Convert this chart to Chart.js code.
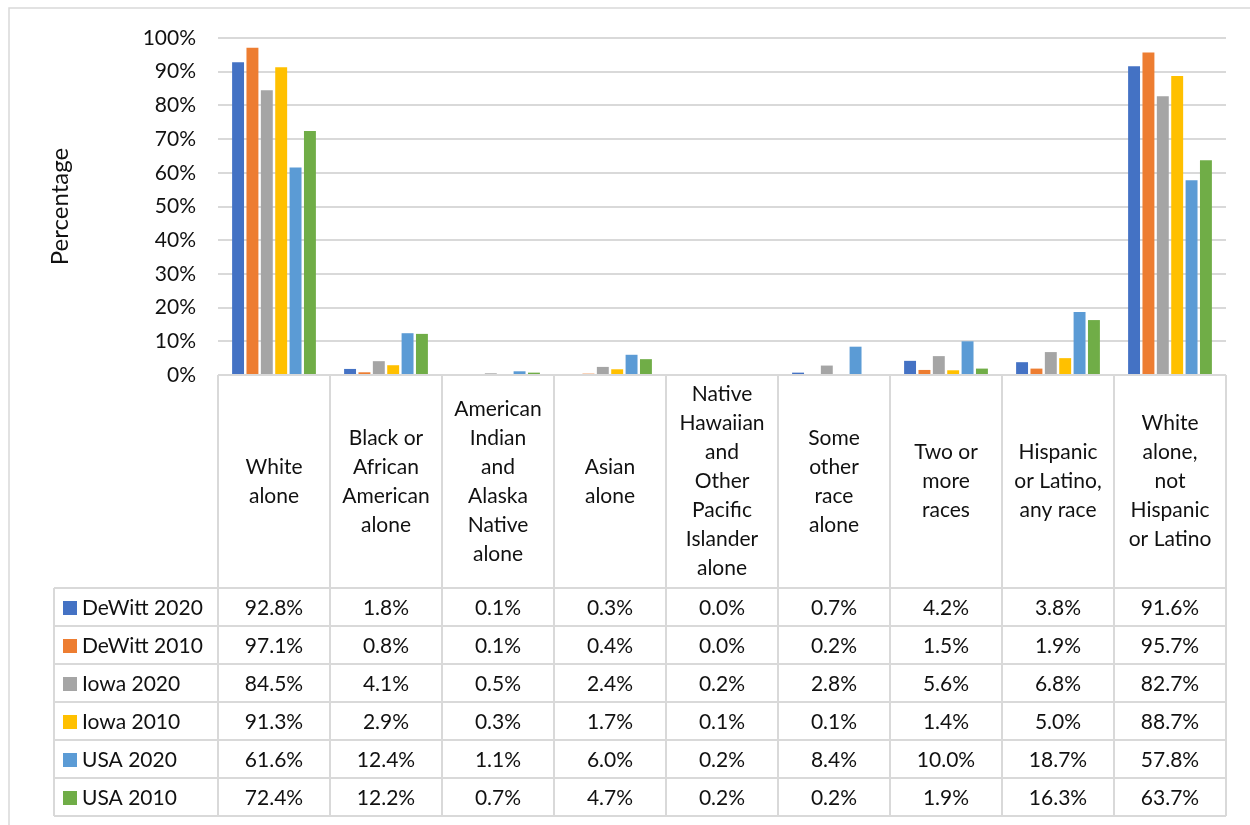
<!DOCTYPE html>
<html>
<head>
<meta charset="utf-8">
<script src="https://cdn.jsdelivr.net/npm/chart.js@4"></script>
<style>
  html, body { margin: 0; padding: 0; background: #fff; }
  #wrap { width: 1250px; height: 825px; position: relative; }
</style>
</head>
<body>
<div id="wrap"><canvas id="raceChart"></canvas></div>
<script>
// categories (multi-line labels, as in the table header)
const categories = [
  ["White", "alone"],
  ["Black or", "African", "American", "alone"],
  ["American", "Indian", "and", "Alaska", "Native", "alone"],
  ["Asian", "alone"],
  ["Native", "Hawaiian", "and", "Other", "Pacific", "Islander", "alone"],
  ["Some", "other", "race", "alone"],
  ["Two or", "more", "races"],
  ["Hispanic", "or Latino,", "any race"],
  ["White", "alone,", "not", "Hispanic", "or Latino"]
];

const seriesNames = ["DeWitt 2020", "DeWitt 2010", "Iowa 2020", "Iowa 2010", "USA 2020", "USA 2010"];

const dewitt2020 = [92.8, 1.8, 0.1, 0.3, 0.0, 0.7, 4.2, 3.8, 91.6];
const dewitt2010 = [97.1, 0.8, 0.1, 0.4, 0.0, 0.2, 1.5, 1.9, 95.7];
const iowa2020   = [84.5, 4.1, 0.5, 2.4, 0.2, 2.8, 5.6, 6.8, 82.7];
const iowa2010   = [91.3, 2.9, 0.3, 1.7, 0.1, 0.1, 1.4, 5.0, 88.7];
const usa2020    = [61.6, 12.4, 1.1, 6.0, 0.2, 8.4, 10.0, 18.7, 57.8];
const usa2010    = [72.4, 12.2, 0.7, 4.7, 0.2, 0.2, 1.9, 16.3, 63.7];

const yTicks = [0, 10, 20, 30, 40, 50, 60, 70, 80, 90, 100];

const seriesData = [dewitt2020, dewitt2010, iowa2020, iowa2010, usa2020, usa2010];
const colors = ["#4472C4", "#ED7D31", "#A5A5A5", "#FFC000", "#5B9BD5", "#70AD47"];

const FONT = "Lato, 'Open Sans', sans-serif";
const LINE = "#d9d9d9";
const TEXT = "#111111";

// frame around the whole chart
const framePlugin = {
  id: "frame",
  beforeDraw(chart) {
    const ctx = chart.ctx;
    ctx.save();
    ctx.strokeStyle = LINE;
    ctx.lineWidth = 1.5;
    ctx.strokeRect(9, 8, 1300, 900);
    ctx.restore();
  }
};

// Excel style data table under the plot
const dataTablePlugin = {
  id: "dataTable",
  afterDraw(chart) {
    const ctx = chart.ctx;
    const area = chart.chartArea;
    const xs = chart.scales.x;
    const labels = chart.data.labels;
    const colW = (area.right - area.left) / labels.length;
    const headerH = 213;
    const rowH = 38;
    const legendLeft = 54;
    const headerBottom = area.bottom + headerH;
    const tableBottom = headerBottom + rowH * chart.data.datasets.length;

    ctx.save();
    ctx.strokeStyle = LINE;
    ctx.lineWidth = 2;

    // vertical lines
    for (let i = 0; i <= labels.length; i++) {
      const x = area.left + i * colW;
      ctx.beginPath();
      ctx.moveTo(x, area.bottom);
      ctx.lineTo(x, tableBottom);
      ctx.stroke();
    }
    ctx.beginPath();
    ctx.moveTo(legendLeft, headerBottom);
    ctx.lineTo(legendLeft, tableBottom);
    ctx.stroke();

    // horizontal lines
    ctx.beginPath();
    ctx.moveTo(area.left, area.bottom);
    ctx.lineTo(area.right, area.bottom);
    ctx.stroke();
    for (let r = 0; r <= chart.data.datasets.length; r++) {
      const y = headerBottom + r * rowH;
      ctx.beginPath();
      ctx.moveTo(legendLeft, y);
      ctx.lineTo(area.right, y);
      ctx.stroke();
    }

    // header text
    ctx.fillStyle = TEXT;
    ctx.font = "21px " + FONT;
    ctx.textAlign = "center";
    ctx.textBaseline = "middle";
    const lh = 29;
    labels.forEach((lines, i) => {
      const cx = xs.getPixelForValue(i);
      const cy = area.bottom + headerH / 2;
      const y0 = cy - (lines.length - 1) * lh / 2;
      lines.forEach((t, k) => ctx.fillText(t, cx, y0 + k * lh));
    });

    // rows
    chart.data.datasets.forEach((ds, r) => {
      const cy = headerBottom + r * rowH + rowH / 2 + 1;
      ctx.fillStyle = ds.backgroundColor;
      ctx.fillRect(63, cy - 7, 14, 14);
      ctx.fillStyle = TEXT;
      ctx.textAlign = "left";
      ctx.fillText(ds.label, 82, cy);
      ctx.textAlign = "center";
      ds.data.forEach((v, i) => {
        ctx.fillText(v.toFixed(1) + "%", xs.getPixelForValue(i), cy);
      });
    });
    ctx.restore();
  }
};

new Chart(document.getElementById("raceChart"), {
  type: "bar",
  data: {
    labels: categories,
    datasets: seriesNames.map((name, i) => ({
      label: name,
      data: seriesData[i],
      backgroundColor: colors[i],
      borderWidth: 0,
      categoryPercentage: 0.77,
      barPercentage: 0.83
    }))
  },
  options: {
    responsive: true,
    maintainAspectRatio: false,
    animation: false,
    layout: { padding: { left: 0, top: 38, right: 24, bottom: 450 } },
    plugins: {
      legend: { display: false },
      tooltip: { enabled: false }
    },
    scales: {
      x: {
        display: false,
        grid: { display: false }
      },
      y: {
        min: 0,
        max: 100,
        afterFit(scale) { scale.width = 218; },
        afterBuildTicks(scale) { scale.ticks = yTicks.map(v => ({ value: v })); },
        border: { display: false },
        grid: { color: LINE, lineWidth: 2, drawTicks: false },
        ticks: {
          padding: 22,
          color: TEXT,
          font: { family: FONT, size: 21 },
          callback: v => v + "%"
        },
        title: {
          display: true,
          text: "Percentage",
          color: TEXT,
          font: { family: FONT, size: 24 },
          padding: { top: 46, bottom: 0 }
        }
      }
    }
  },
  plugins: [framePlugin, dataTablePlugin]
});
</script>
</body>
</html>
